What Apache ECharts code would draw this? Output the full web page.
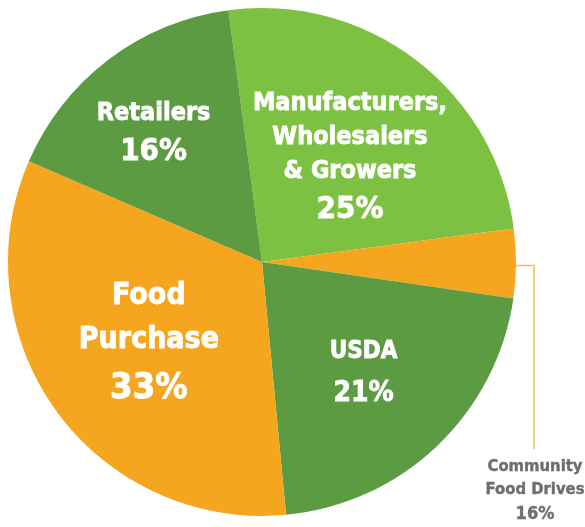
<!DOCTYPE html>
<html>
<head>
<meta charset="utf-8">
<style>
  html, body { margin: 0; padding: 0; background: #ffffff; }
  #main { width: 585px; height: 527px; }
</style>
<script src="https://cdn.jsdelivr.net/npm/echarts@6/dist/echarts.min.js"></script>
</head>
<body>
<div id="main"></div>
<script>
// Data
const categories = ['Manufacturers,\nWholesalers\n& Growers', 'Community\nFood Drives', 'USDA', 'Food\nPurchase', 'Retailers'];
const values = [25, 4.4, 21.2, 33, 16.4];
const pctLabels = ['25%', '16%', '21%', '33%', '16%'];
const colors = ['#7cc142', '#f6a51e', '#5d9b42', '#f6a51e', '#5d9b42'];

const FONT = '"DejaVu Sans Condensed", "Liberation Sans Narrow", sans-serif';
const nameSize = [25, 16.5, 24, 30, 25];
const pctSize = [31, 18, 28, 36, 31];
const nameLH = [34, 23, 38, 44, 36];
const pctLH = [42, 25, 46, 52, 42];
const shift = [[9, 0], null, [12, 19], [-8, 6], [-30, -24]];

const chart = echarts.init(document.getElementById('main'), null, { renderer: 'canvas' });

const data = categories.map(function (c, i) {
  const isOut = i === 1;
  const col = isOut ? '#6d6e71' : '#ffffff';
  const thick = { textBorderColor: col, textBorderWidth: isOut ? 0.4 : 0.8 };
  return {
    name: c,
    value: values[i],
    itemStyle: { color: colors[i] },
    label: {
      position: isOut ? 'outside' : 'inside',
      formatter: function () {
        return c.split('\n').map(function (s) { return '{n|' + s + '}'; }).join('\n') + '\n{p|' + pctLabels[i] + '}';
      },
      rich: {
        n: Object.assign({ fontFamily: FONT, fontWeight: 'bold', fontSize: nameSize[i], color: col, lineHeight: nameLH[i], align: 'center' }, thick),
        p: Object.assign({ fontFamily: FONT, fontWeight: 'bold', fontSize: pctSize[i], color: col, lineHeight: pctLH[i], align: 'center' }, thick)
      }
    },
    labelLine: { show: isOut, length: 10, length2: 10, lineStyle: { color: '#f9b845', width: 1.5 } }
  };
});

chart.setOption({
  animation: false,
  backgroundColor: '#ffffff',
  series: [{
    type: 'pie',
    center: [262, 262],
    radius: [0, 254],
    startAngle: 97.6,
    clockwise: true,
    avoidLabelOverlap: false,
    data: data,
    label: { show: true },
    emphasis: { disabled: true },
    labelLayout: function (params) {
      const i = params.dataIndex;
      if (i === 1) {
        const p0 = params.labelLinePoints ? params.labelLinePoints[0] : [516, 266];
        const xl = 534;
        const top = 449;
        return {
          x: xl + 1,
          y: top + 42,
          align: 'center',
          verticalAlign: 'middle',
          labelLinePoints: [[p0[0], p0[1] + 2], [xl, p0[1] + 2], [xl, top]]
        };
      }
      const s = shift[i];
      return { dx: s[0], dy: s[1] };
    }
  }]
});
</script>
</body>
</html>
